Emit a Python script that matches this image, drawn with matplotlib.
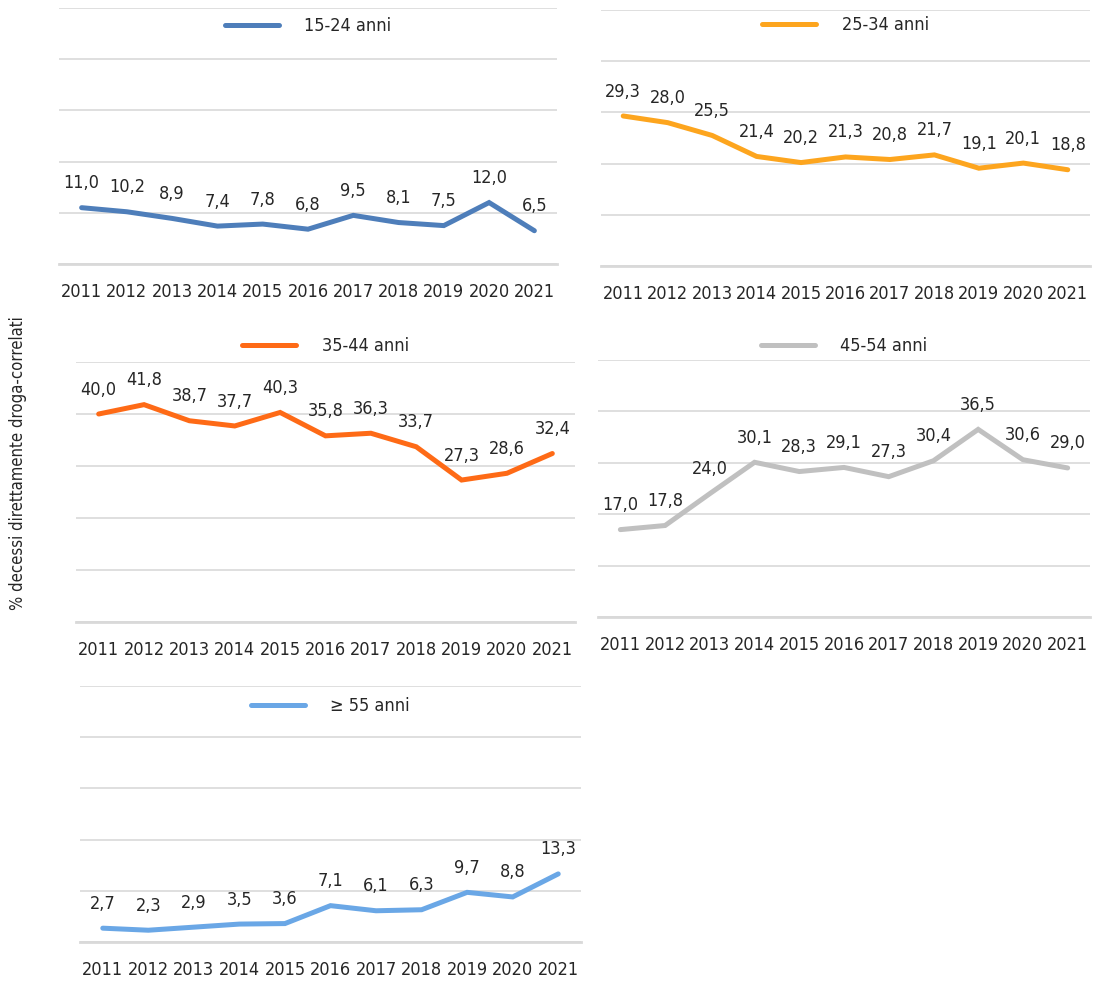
import numpy as np
import matplotlib
matplotlib.use('Agg')
import matplotlib.pyplot as plt

plt.rcParams['font.family'] = ['DejaVu Sans']
plt.rcParams['font.stretch'] = 'condensed'

# Data
years = ['2011', '2012', '2013', '2014', '2015', '2016', '2017', '2018', '2019', '2020', '2021']
labels = ['15-24 anni', '25-34 anni', '35-44 anni', '45-54 anni', '≥ 55 anni']
val_15_24 = [11.0, 10.2, 8.9, 7.4, 7.8, 6.8, 9.5, 8.1, 7.5, 12.0, 6.5]
val_25_34 = [29.3, 28.0, 25.5, 21.4, 20.2, 21.3, 20.8, 21.7, 19.1, 20.1, 18.8]
val_35_44 = [40.0, 41.8, 38.7, 37.7, 40.3, 35.8, 36.3, 33.7, 27.3, 28.6, 32.4]
val_45_54 = [17.0, 17.8, 24.0, 30.1, 28.3, 29.1, 27.3, 30.4, 36.5, 30.6, 29.0]
val_55 = [2.7, 2.3, 2.9, 3.5, 3.6, 7.1, 6.1, 6.3, 9.7, 8.8, 13.3]

series = [val_15_24, val_25_34, val_35_44, val_45_54, val_55]
colors = ['#4E7EBA', '#FDA51E', '#FE6A16', '#C0C0C0', '#6AA7E6']

W, H = 1101, 985
# axes boxes in pixels: left, right, top, bottom
boxes = [(59, 557, 8, 264),
         (601, 1090, 10, 266),
         (76, 575, 362, 622),
         (598, 1090, 360, 617),
         (80, 581, 686, 942)]
# legend vertical position (axes fraction)
leg_y = [0.93, 0.94, 1.062, 1.054, 0.92]

text_col = '#262626'
grid_col = '#D9D9D9'
fs = 13

fig = plt.figure(figsize=(W / 100, H / 100), dpi=100)

x = np.arange(len(years))
for vals, col, lab, (l, r, t, b), ly in zip(series, colors, labels, boxes, leg_y):
    ax = fig.add_axes([l / W, (H - b) / H, (r - l) / W, (b - t) / H])
    ax.plot(x, vals, color=col, lw=3.6, solid_capstyle='round',
            solid_joinstyle='miter', label=lab, zorder=3)
    for xi, v in zip(x, vals):
        ax.annotate(f'{v:.1f}'.replace('.', ','), (xi, v), xytext=(0, 14),
                    textcoords='offset points', ha='center', va='baseline',
                    fontsize=fs, color=text_col)
    ax.set_xlim(-0.5, len(years) - 0.5)
    ax.set_ylim(0, 50)
    ax.set_yticks(np.arange(0, 51, 10))
    ax.set_yticklabels([])
    ax.set_xticks(x)
    ax.set_xticklabels(years, fontsize=fs, color=text_col)
    ax.tick_params(axis='both', length=0)
    ax.tick_params(axis='x', pad=14)
    ax.grid(axis='y', color=grid_col, lw=1.2)
    ax.set_axisbelow(True)
    for s in ['top', 'right', 'left']:
        ax.spines[s].set_visible(False)
    ax.spines['bottom'].set_color(grid_col)
    ax.spines['bottom'].set_linewidth(2)
    leg = ax.legend(loc='center', bbox_to_anchor=(0.5, ly), frameon=False,
                    fontsize=fs, handlelength=3.0, handletextpad=1.4,
                    borderaxespad=0)
    for t_ in leg.get_texts():
        t_.set_color(text_col)

fig.text(18 / W, 1 - 463 / H, '% decessi direttamente droga-correlati',
         rotation=90, ha='center', va='center', fontsize=12, color=text_col)

fig.savefig('out.png', dpi=100)
